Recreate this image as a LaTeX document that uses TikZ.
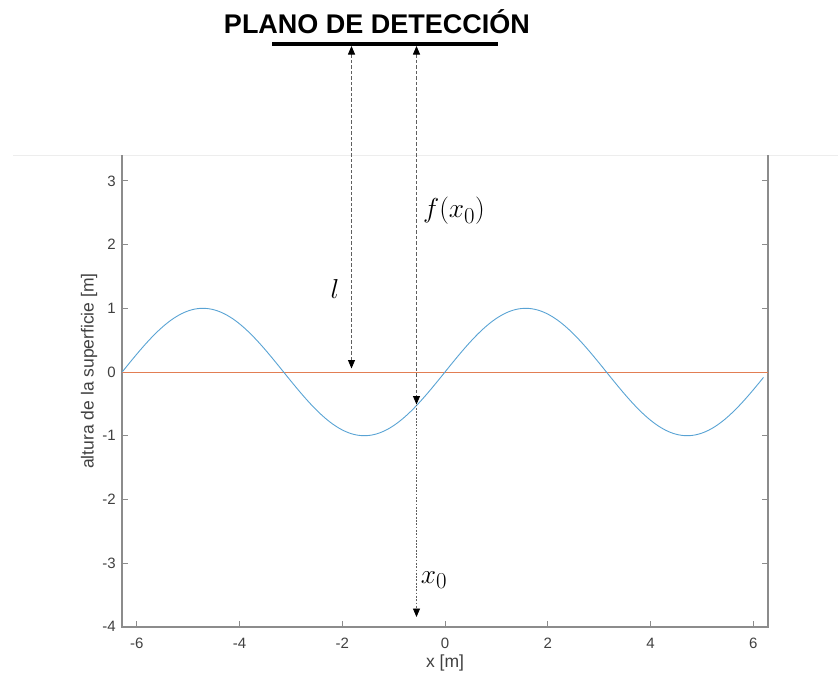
\documentclass[tikz,border=0pt]{standalone}
\usepackage{fontspec}
\setmainfont{Liberation Sans}
\usetikzlibrary{arrows.meta}
\definecolor{mblue}{RGB}{0,114,189}
\definecolor{morange}{RGB}{217,83,25}
\definecolor{axgray}{RGB}{140,140,140}
\definecolor{arrgray}{RGB}{95,95,95}
\tikzset{
  axisline/.style={draw=axgray, line width=1.1pt},
  tickmark/.style={draw=axgray, line width=0.9pt},
  ticklabel/.style={font=\fontsize{15}{15}\selectfont, text=black!75, inner sep=0pt},
  axlabel/.style={font=\fontsize{17.5}{17.5}\selectfont, text=black!75, inner sep=0pt},
  mathlabel/.style={font=\fontsize{24.88}{24.88}\selectfont, inner sep=0pt, scale=1.1},
  tri/.tip={Triangle[width=7pt,length=8.5pt,color=black]},
  dashedarrow/.style={draw=arrgray, line width=0.8pt, dash pattern=on 3.5pt off 2pt},
  dottedarrow/.style={draw=arrgray, line width=0.8pt, dash pattern=on 1.8pt off 1.5pt},
}
\begin{document}
\begin{tikzpicture}[x=1pt,y=-1pt]
\useasboundingbox (0,0) rectangle (838,675);
% faint screenshot edge
\draw[black!7, line width=0.6pt] (13,155) -- (838,155);
% title and detection plane
\node[font=\fontsize{27}{27}\selectfont\bfseries, inner sep=0pt, anchor=base] (title) at (377,33) {PLANO DE DETECCIÓN};
\draw[line width=3.5pt] (272,44) -- (498,44);
% axes
\draw[axisline] (122,155) -- (122,627) -- (768,627) -- (768,155);
% y ticks
\foreach \v [count=\i] in {-4,-3,-2,-1,0,1,2,3}{
  \pgfmathsetmacro{\yy}{372-63.7*\v}
  \draw[tickmark] (122,\yy) -- (128,\yy);
  \draw[tickmark] (768,\yy) -- (762,\yy);
  \node[ticklabel, anchor=east] (ytl\i) at (116,\yy) {\v};
}
% x ticks
\foreach \v [count=\i] in {-6,-4,-2,0,2,4,6}{
  \pgfmathsetmacro{\xx}{445+51.38*\v}
  \draw[tickmark] (\xx,627) -- (\xx,621);
  \node[ticklabel] (xtl\i) at (\xx,643) {\v};
}
\node[axlabel] (xlab) at (445,663) {x [m]};
\node[axlabel, rotate=90] (ylab) at (89,371) {altura de la superficie [m]};
% curves
\draw[morange!75, line width=0.9pt] (122,372) -- (768,372);
\draw[mblue!65, line width=0.9pt, domain=-6.2832:6.2, samples=250, smooth]
  plot ({445+51.38*\x},{372-63.7*sin(\x r)});
% connector coordinates
\coordinate (ltop) at (351.5,46);
\coordinate (lbot) at (351.5,368.5);
\coordinate (ftop) at (416.5,46);
\coordinate (fbot) at (416.5,404.5);
\coordinate (xbot) at (416.5,617);
\draw[dashedarrow, {tri}-{tri}] (lbot) -- (ltop);
\draw[dashedarrow, {tri}-{tri}] (ftop) -- (fbot);
\draw[dottedarrow, -{tri}] (fbot) -- (xbot);
% math labels
\node[mathlabel] (llab) at (335,289) {$l$};
\node[mathlabel] (flab) at (454,211) {$f(x_0)$};
\node[mathlabel] (x0lab) at (434,580) {$x_0$};
\end{tikzpicture}
\end{document}
